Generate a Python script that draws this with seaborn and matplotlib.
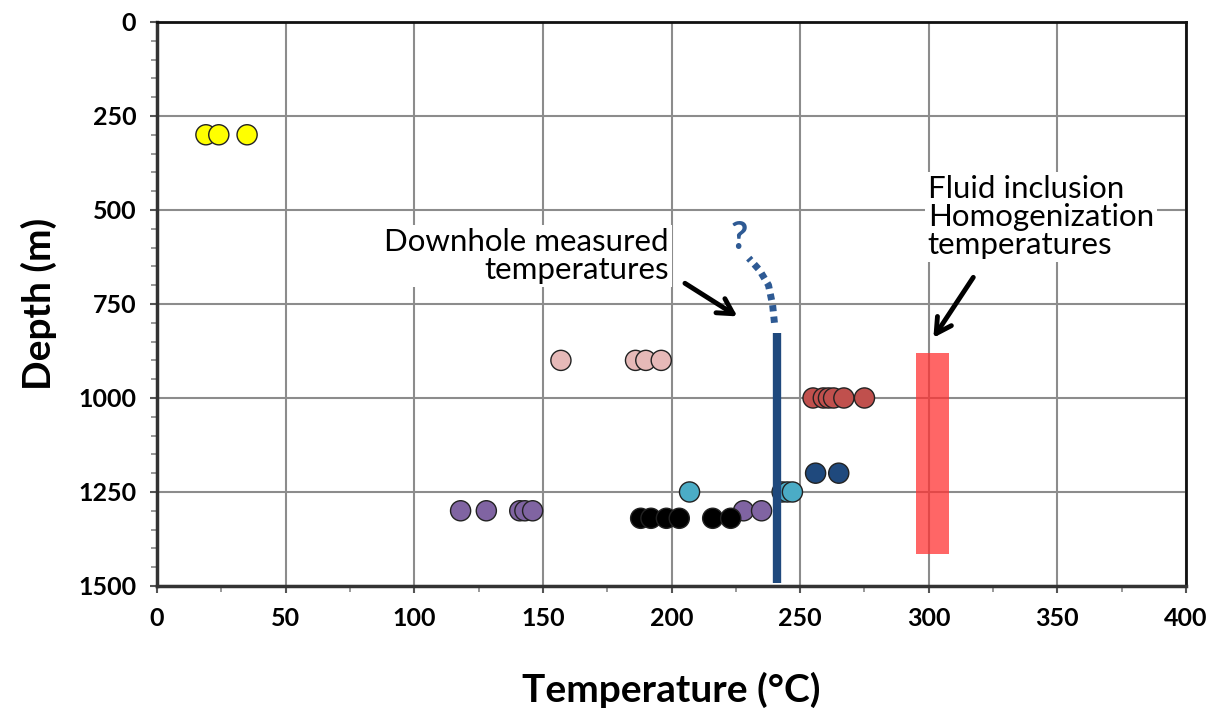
import numpy as np
import pandas as pd
import matplotlib
matplotlib.use("Agg")
import matplotlib.pyplot as plt
import seaborn as sns
from matplotlib.ticker import MultipleLocator
from matplotlib.patches import Rectangle

# ---- data ----
yellow_t = [19, 24, 35]
yellow_d = [300, 300, 300]
pink_t = [157, 186, 190, 196]
pink_d = [900, 900, 900, 900]
red_t = [255, 259, 261, 263, 267, 275]
red_d = [1000, 1000, 1000, 1000, 1000, 1000]
navy_t = [256, 265]
navy_d = [1200, 1200]
teal_t = [207, 243, 245, 247]
teal_d = [1250, 1250, 1250, 1250]
purple_t = [118, 128, 141, 143, 146, 228, 235]
purple_d = [1300, 1300, 1300, 1300, 1300, 1300, 1300]
black_t = [188, 192, 198, 203, 216, 223]
black_d = [1320, 1320, 1320, 1320, 1320, 1320]

downhole_t = [241, 241]
downhole_d = [828, 1493]
extrap_t = [240, 239.3, 237.7, 234.2, 230]
extrap_d = [800, 753, 700, 660, 628]

fi_t_range = [295, 308]
fi_d_range = [880, 1415]

groups = ["yellow", "pink", "red", "navy", "teal", "purple", "black"]
colors = ["#FFFF00", "#E6B9B8", "#C0504D", "#1F497D", "#4BACC6", "#8064A2", "#000000"]

frames = []
for g, t, d in zip(groups,
                   [yellow_t, pink_t, red_t, navy_t, teal_t, purple_t, black_t],
                   [yellow_d, pink_d, red_d, navy_d, teal_d, purple_d, black_d]):
    frames.append(pd.DataFrame({"Temperature": t, "Depth": d, "group": g}))
df = pd.concat(frames, ignore_index=True)

sns.set_theme(style="white")
plt.rcParams["font.family"] = ["Lato", "DejaVu Sans"]
plt.rcParams["text.color"] = "black"
plt.rcParams["axes.labelcolor"] = "black"
plt.rcParams["xtick.color"] = "black"
plt.rcParams["ytick.color"] = "black"

fig = plt.figure(figsize=(12.27, 7.16), dpi=100)
ax = fig.add_axes([0.128, 0.1816, 0.8386, 0.7877])

ax.grid(True, which="major", color="#8C8C8C", linewidth=1.5, zorder=0)
ax.set_axisbelow(True)

# fluid inclusion bar
ax.add_patch(Rectangle((fi_t_range[0], fi_d_range[0]),
                       fi_t_range[1] - fi_t_range[0], fi_d_range[1] - fi_d_range[0],
                       facecolor="#FF3333", alpha=0.75, edgecolor="none", zorder=2))

sns.scatterplot(data=df, x="Temperature", y="Depth", hue="group", hue_order=groups,
                palette=colors, s=210, edgecolor="#222222", linewidth=1.0,
                legend=False, ax=ax, zorder=3)

# downhole line
ax.plot(downhole_t, downhole_d, color="#1F497D", linewidth=6, solid_capstyle="butt", zorder=6)
ax.plot(extrap_t, extrap_d, color="#2E5A94", linewidth=5, linestyle=(0, (0.9, 0.75)),
        dash_capstyle="butt", zorder=6)

ax.set_xlim(0, 400)
ax.set_ylim(1500, 0)
ax.xaxis.set_major_locator(MultipleLocator(50))
ax.xaxis.set_minor_locator(MultipleLocator(25))
ax.yaxis.set_major_locator(MultipleLocator(250))
ax.yaxis.set_minor_locator(MultipleLocator(50))
ax.tick_params(which="major", direction="out", length=5, width=1.5, color="#555555",
               labelsize=18, pad=10, left=True, bottom=True, labelcolor="black")
ax.tick_params(which="minor", direction="out", length=4, width=1.2, color="#888888",
               left=True, bottom=True)
for lab in ax.get_xticklabels() + ax.get_yticklabels():
    lab.set_fontweight("bold")

for side in ["left", "bottom"]:
    ax.spines[side].set_color("#333333")
    ax.spines[side].set_linewidth(2.5)
for side in ["top", "right"]:
    ax.spines[side].set_color("#111111")
    ax.spines[side].set_linewidth(2)

ax.set_xlabel("Temperature (°C)", fontsize=28, fontweight="bold", labelpad=30)
ax.set_ylabel("Depth (m)", fontsize=28, fontweight="bold", labelpad=15)

# annotations
bbox_w = dict(boxstyle="square,pad=0.1", facecolor="white", edgecolor="none")
ax.text(199, 622, "Downhole measured\ntemperatures", ha="right", va="center",
        fontsize=22.5, linespacing=1.0, bbox=bbox_w, zorder=5)
ax.annotate("", xy=(226.5, 787), xytext=(204.3, 691),
            arrowprops=dict(arrowstyle="->,head_length=0.9,head_width=0.5",
                            color="black", lw=3.5), zorder=5)
ax.text(299.6, 519, "Fluid inclusion\nHomogenization\ntemperatures", ha="left", va="center",
        fontsize=22.5, linespacing=1.0, bbox=bbox_w, zorder=5)
ax.annotate("", xy=(301.2, 846), xytext=(317.9, 673),
            arrowprops=dict(arrowstyle="->,head_length=0.9,head_width=0.5",
                            color="black", lw=3.5), zorder=5)
ax.text(226.5, 575, "?", ha="center", va="center", fontsize=27, fontweight="bold",
        color="#2E5A94", zorder=5)

fig.savefig("out.png", dpi=100)
